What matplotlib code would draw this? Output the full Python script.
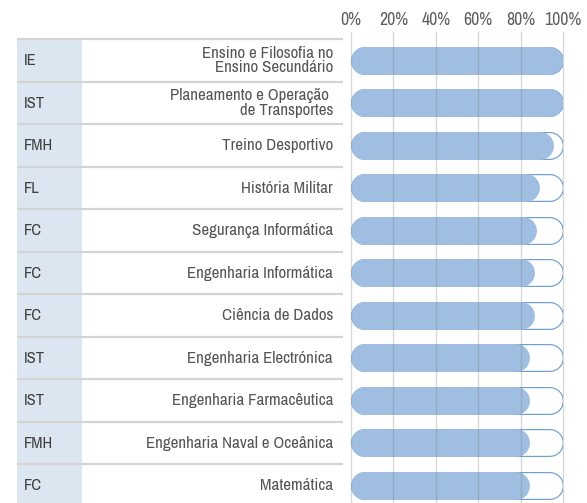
import matplotlib
matplotlib.use("Agg")
import matplotlib.pyplot as plt
from matplotlib import font_manager as fm
from matplotlib.patches import Rectangle

# ---- data ----
schools = ["IE", "IST", "FMH", "FL", "FC", "FC", "FC", "IST", "IST", "FMH", "FC"]
courses = ["Ensino e Filosofia no\nEnsino Secundário",
           "Planeamento e Operação \nde Transportes",
           "Treino Desportivo", "História Militar", "Segurança Informática",
           "Engenharia Informática", "Ciência de Dados", "Engenharia Electrónica",
           "Engenharia Farmacêutica", "Engenharia Naval e Oceânica", "Matemática"]
values = [1.00, 1.00, 0.958, 0.890, 0.876, 0.868, 0.868, 0.846, 0.846, 0.846, 0.846]
ticks = [0, 0.2, 0.4, 0.6, 0.8, 1.0]
tick_labels = ["0%", "20%", "40%", "60%", "80%", "100%"]

names = sorted({f.name for f in fm.fontManager.ttflist})
narrow = [nm for nm in names if ("Narrow" in nm or "Condensed" in nm)]
if narrow:
    fam = narrow[0]
elif "Roboto" in names:
    fam = "Roboto"
else:
    fam = "Liberation Sans"
plt.rcParams["font.family"] = [fam, "DejaVu Sans"]

W, H = 587, 503
fig = plt.figure(figsize=(W / 100, H / 100), dpi=100)
renderer = fig.canvas.get_renderer()

def text_width(s, size):
    t = fig.text(0, 0, s, fontsize=size)
    w = t.get_window_extent(renderer).width
    t.remove()
    return w

fs_label = 10 * 146.0 / text_width("Engenharia Informática", 10)
fs_code = 10 * 21.0 / text_width("IST", 10)
fs_tick = 10 * 37.0 / text_width("100%", 10)

row_top_px = 39.3
row_h = 42.5
ax_top_px = 31.5
n = len(schools)
ytop = -0.5 - (row_top_px - ax_top_px) / row_h
ybot = -0.5 + (H - row_top_px) / row_h

# bar axes
x0px, x1px = 351, 563
ax = fig.add_axes([x0px / W, 0, (x1px - x0px) / W, 1 - ax_top_px / H])
ax.set_xlim(0, 1)
ax.set_ylim(ybot, ytop)
for s in ax.spines.values():
    s.set_visible(False)
ax.set_yticks([])
ax.set_xticks(ticks)
ax.set_xticklabels(tick_labels)
ax.xaxis.tick_top()
ax.tick_params(axis="x", length=0, pad=2.5, labelsize=fs_tick, labelcolor="#5f5f5f")
for t in ticks:
    ax.axvline(t, color="#808080", alpha=0.3, lw=1.0, zorder=5, clip_on=False)

px_per_unit = (x1px - x0px)
bar_h_px = 28.0
r = (bar_h_px / 2) / px_per_unit
lw_out = bar_h_px * 72 / 100
lw_in = (bar_h_px - 2.4) * 72 / 100
ys = list(range(n))
for y, v in zip(ys, values):
    ax.plot([r, 1 - r + 0.004], [y, y], color="#6f9fd3", lw=lw_out,
            solid_capstyle="round", zorder=2)
    ax.plot([r, 1 - r + 0.004], [y, y], color="white", lw=lw_in,
            solid_capstyle="round", zorder=2.5)
    ax.plot([r, v - r], [y, y], color="#a0bee1", lw=lw_out,
            solid_capstyle="round", zorder=3)

# table axes
tx0, tx1 = 16.7, 343
tax = fig.add_axes([tx0 / W, 0, (tx1 - tx0) / W, 1 - ax_top_px / H], sharey=ax)
tax.set_xlim(tx0, tx1)
tax.axis("off")
tax.add_patch(Rectangle((tx0, -0.5), 82 - tx0, n, facecolor="#dce6f1",
                        edgecolor="none", zorder=1))
for i in range(n):
    tax.plot([tx0, tx1], [i - 0.5, i - 0.5], color="#d4d4d4", lw=1.6, zorder=2)
for y, s, c in zip(ys, schools, courses):
    tax.text(23.5, y, s, ha="left", va="center", fontsize=fs_code, color="#404040")
    tax.text(333, y, c, ha="right", va="center", fontsize=fs_label, color="#555555",
             linespacing=0.95)

fig.savefig("out.png", dpi=100)
